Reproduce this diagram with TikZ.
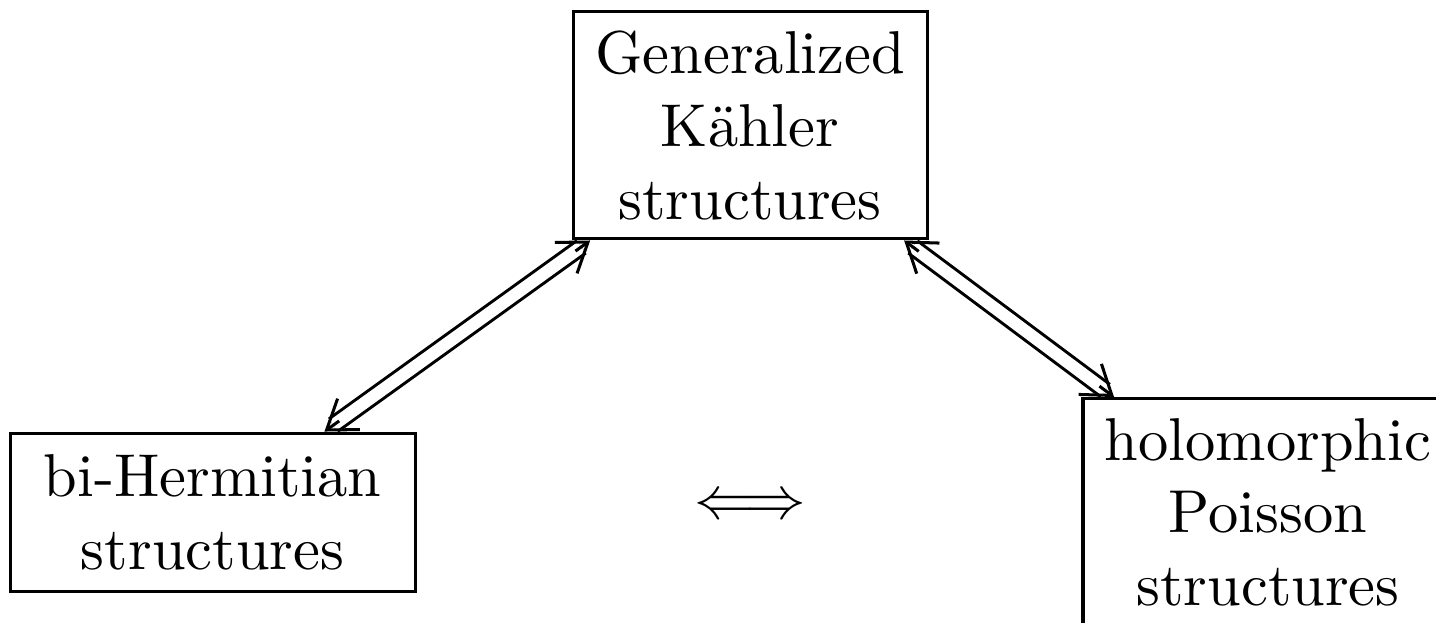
\documentclass[tikz,border=0pt]{standalone}
\usetikzlibrary{positioning,arrows.meta,calc}
\begin{document}
\begin{tikzpicture}[node distance=2.246cm, on grid, line width=0.5pt,
  structbox/.style={draw, align=center, inner sep=0pt},
  equiv/.style={double, double distance=2pt, shorten <=1.8pt, shorten >=1.8pt},
  barb/.style={-{Straight Barb[length=4.5pt, width=6.3pt]}}]
  \useasboundingbox (-4.358,-2.885) rectangle (3.985,0.729);
  \node (GK) [structbox, minimum width=2.057cm, minimum height=1.319cm]
    {Generalized\\K\"ahler\\structures};
  \node (BH) [structbox, minimum width=2.353cm, minimum height=0.918cm,
    below left=2.246cm and 3.123cm of GK] {bi-Hermitian\\structures};
  \node (HP) [structbox, minimum width=2.15cm, minimum height=1.319cm,
    below right=2.246cm and 3.009cm of GK] {holomorphic\\Poisson\\structures};
  \node (EQ) [below=2.217cm of GK] {$\Longleftrightarrow$};
  % double lines, tips added separately
  \draw[equiv] (GK) -- (BH) coordinate[pos=0] (GKl) coordinate[pos=1] (BHt);
  \draw[equiv] (GK) -- (HP) coordinate[pos=0] (GKr) coordinate[pos=1] (HPt);
  \draw[barb] ($(BHt)!3pt!(GKl)$) -- (BHt);
  \draw[barb] ($(GKl)!3pt!(BHt)$) -- (GKl);
  \draw[barb] ($(HPt)!3pt!(GKr)$) -- (HPt);
  \draw[barb] ($(GKr)!3pt!(HPt)$) -- (GKr);
\end{tikzpicture}
\end{document}
